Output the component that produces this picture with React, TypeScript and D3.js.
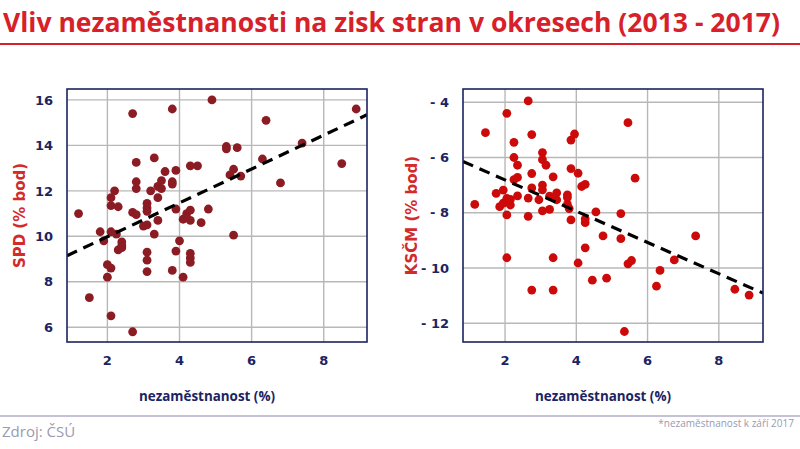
import * as d3 from 'd3'

// unemployment (%) vs change of party result (percentage points), by district
const spdX = [1.2, 1.5, 1.8, 1.9, 2.0, 2.1, 2.0, 2.1, 2.1, 2.1, 2.1, 2.2, 2.3, 2.25, 2.4, 2.4, 2.3, 2.4, 2.7, 2.7, 2.7, 2.8, 2.8, 2.8, 2.8, 3.0, 3.1, 3.1, 3.1, 3.1, 3.1, 3.1, 3.1, 3.2, 3.3, 3.3, 3.4, 3.4, 3.4, 3.5, 3.5, 3.6, 3.8, 3.8, 3.8, 3.8, 3.9, 3.9, 3.9, 4.0, 4.1, 4.1, 4.2, 4.3, 4.3, 4.3, 4.5, 4.3, 4.3, 4.3, 4.6, 4.8, 4.9, 5.3, 5.3, 5.4, 5.5, 5.6, 5.7, 5.5, 6.3, 6.4, 6.8, 7.4, 8.5, 8.9]
const spdY = [11.0, 7.3, 10.2, 9.8, 8.75, 8.6, 8.2, 6.5, 11.7, 11.35, 10.2, 12.0, 11.3, 10.1, 9.75, 9.6, 9.4, 9.5, 5.8, 15.4, 11.05, 10.95, 13.25, 12.4, 12.1, 10.45, 10.5, 11.45, 11.25, 11.1, 9.3, 8.95, 8.45, 12.0, 13.45, 10.1, 11.7, 10.7, 12.2, 12.45, 12.1, 12.85, 15.6, 12.4, 12.3, 8.5, 12.9, 11.2, 9.35, 9.8, 8.2, 10.75, 11.0, 11.15, 10.7, 13.1, 13.1, 9.25, 9.05, 8.85, 10.6, 11.2, 16.0, 13.95, 13.85, 12.7, 12.95, 13.9, 12.65, 10.05, 13.4, 15.1, 12.35, 14.1, 13.2, 15.6]

const kscmX = [1.15, 1.45, 1.75, 1.85, 1.95, 1.95, 2.05, 2.15, 2.15, 2.05, 2.05, 2.05, 2.25, 2.25, 2.35, 2.35, 2.25, 2.35, 2.65, 2.75, 2.75, 2.75, 2.65, 2.65, 2.75, 2.95, 3.05, 3.05, 3.15, 3.05, 3.05, 3.05, 3.25, 3.25, 3.35, 3.35, 3.35, 3.45, 3.45, 3.75, 3.75, 3.75, 3.8, 3.85, 3.95, 3.85, 3.85, 4.05, 4.15, 4.25, 4.25, 4.25, 4.25, 4.05, 4.45, 4.55, 4.75, 4.85, 5.25, 5.25, 5.35, 5.45, 5.45, 5.55, 5.65, 6.25, 6.35, 6.75, 7.35, 8.45, 8.85]
const kscmY = [-7.7, -5.1, -7.3, -7.78, -7.18, -7.65, -7.48, -7.72, -7.52, -8.08, -9.63, -4.4, -5.45, -6.0, -6.28, -6.72, -6.8, -7.39, -3.95, -5.17, -6.58, -7.1, -7.47, -8.13, -10.8, -7.53, -5.82, -6.08, -6.28, -7.0, -7.17, -7.93, -7.4, -7.88, -6.7, -9.63, -10.8, -7.28, -7.53, -7.35, -7.45, -7.7, -7.85, -5.37, -5.15, -6.4, -8.26, -6.57, -7.05, -6.97, -8.22, -8.36, -9.27, -9.82, -10.44, -7.97, -8.84, -10.37, -8.03, -8.94, -12.3, -4.74, -9.85, -9.73, -6.75, -10.66, -10.09, -9.71, -8.84, -10.77, -10.98]

// linear trend: [intercept, slope]
const spdTrend = [8.49, 0.745]
const kscmTrend = [-5.68, -0.566]

const xTicks = [2, 4, 6, 8]
const spdTicks = [6, 8, 10, 12, 14, 16]
const kscmTicks = [-12, -10, -8, -6, -4]

const NAVY = '#1b2461'
const GRID = '#b8b8b8'
const FONT = '"DejaVu Sans", Verdana, sans-serif'

interface PanelProps {
  left: number
  xDomain: [number, number]
  yDomain: [number, number]
  xs: number[]
  ys: number[]
  trend: number[]
  yTicks: number[]
  color: string
  yLabel: string
  yLabelX: number
  fmt: (v: number) => string
}

function Panel({ left, xDomain, yDomain, xs, ys, trend, yTicks, color, yLabel, yLabelX, fmt }: PanelProps) {
  const top = 89
  const w = 300
  const h = 253
  const x = d3.scaleLinear().domain(xDomain).range([left, left + w])
  const y = d3.scaleLinear().domain(yDomain).range([top + h, top])
  const clipId = `clip-${left}`
  const line = d3.line<number>()
    .x(d => x(d))
    .y(d => y(trend[0] + trend[1] * d))
  return (
    <g>
      <defs>
        <clipPath id={clipId}>
          <rect x={left} y={top} width={w} height={h} />
        </clipPath>
      </defs>
      {xTicks.map(t => (
        <line key={'gx' + t} x1={x(t)} x2={x(t)} y1={top} y2={top + h} stroke={GRID} strokeWidth={1.4} />
      ))}
      {yTicks.map(t => (
        <line key={'gy' + t} x1={left} x2={left + w} y1={y(t)} y2={y(t)} stroke={GRID} strokeWidth={1.4} />
      ))}
      <g clipPath={`url(#${clipId})`}>
        {xs.map((v, i) => (
          <circle key={i} cx={x(v)} cy={y(ys[i])} r={4.4} fill={color} />
        ))}
        <path d={line(xDomain) ?? ''} fill="none" stroke="#000" strokeWidth={3.2} strokeDasharray="11 7" />
      </g>
      <rect x={left} y={top} width={w} height={h} fill="none" stroke={NAVY} strokeWidth={1.6} />
      {xTicks.map(t => (
        <text key={'tx' + t} x={x(t)} y={top + h + 23} textAnchor="middle" fontFamily={FONT} fontWeight="bold" fontSize={13} fill={NAVY}>
          {t}
        </text>
      ))}
      {yTicks.map(t => (
        <text key={'ty' + t} x={left - 14} y={y(t)} dy="0.36em" textAnchor="end" fontFamily={FONT} fontWeight="bold" fontSize={13} fill={NAVY}>
          {fmt(t)}
        </text>
      ))}
      <text
        transform={`translate(${yLabelX},${top + h / 2}) rotate(-90)`}
        textAnchor="middle"
        dy="0.36em"
        fontFamily={FONT}
        fontWeight="bold"
        fontSize={15}
        fill="#d42a2a"
      >
        {yLabel}
      </text>
      <text
        x={left + w / 2 - 10}
        y={401}
        textAnchor="middle"
        fontFamily='"Open Sans", sans-serif'
        fontWeight="bold"
        fontSize={14}
        fill={NAVY}
        textLength={136}
        lengthAdjust="spacingAndGlyphs"
      >
        nezaměstnanost (%)
      </text>
    </g>
  )
}

export default function App() {
  return (
    <svg width={800} height={449} style={{ position: 'absolute', left: 0, top: 0, background: '#fff' }}>
      <rect width={800} height={449} fill="#fff" />
      <text
        x={3}
        y={32}
        fontFamily='"Open Sans", sans-serif'
        fontWeight="bold"
        fontSize={26}
        fill="#d8202a"
        textLength={777}
        lengthAdjust="spacingAndGlyphs"
      >
        Vliv nezaměstnanosti na zisk stran v okresech (2013 - 2017)
      </text>
      <line x1={0} x2={800} y1={44} y2={44} stroke="#d8202a" strokeWidth={2} />
      <Panel
        left={67}
        xDomain={[0.88, 9.2]}
        yDomain={[5.35, 16.48]}
        xs={spdX}
        ys={spdY}
        trend={spdTrend}
        yTicks={spdTicks}
        color="#8c1c24"
        yLabel="SPD (% bod)"
        yLabelX={20}
        fmt={v => String(v)}
      />
      <Panel
        left={463}
        xDomain={[0.82, 9.24]}
        yDomain={[-12.68, -3.52]}
        xs={kscmX}
        ys={kscmY}
        trend={kscmTrend}
        yTicks={kscmTicks}
        color="#cc0a0a"
        yLabel="KSČM (% bod)"
        yLabelX={412}
        fmt={v => (v < 0 ? `- ${Math.abs(v)}` : String(v))}
      />
      <line x1={0} x2={800} y1={416} y2={416} stroke="#b0aec6" strokeWidth={1.5} />
      <text x={2} y={437} fontFamily='"Open Sans", sans-serif' fontSize={15} fill="#9a9ab0">
        Zdroj: ČSÚ
      </text>
      <text x={794} y={427} textAnchor="end" fontFamily='"Open Sans", sans-serif' fontSize={10} fill="#9a9ab0">
        *nezaměstnanost k září 2017
      </text>
    </svg>
  )
}
